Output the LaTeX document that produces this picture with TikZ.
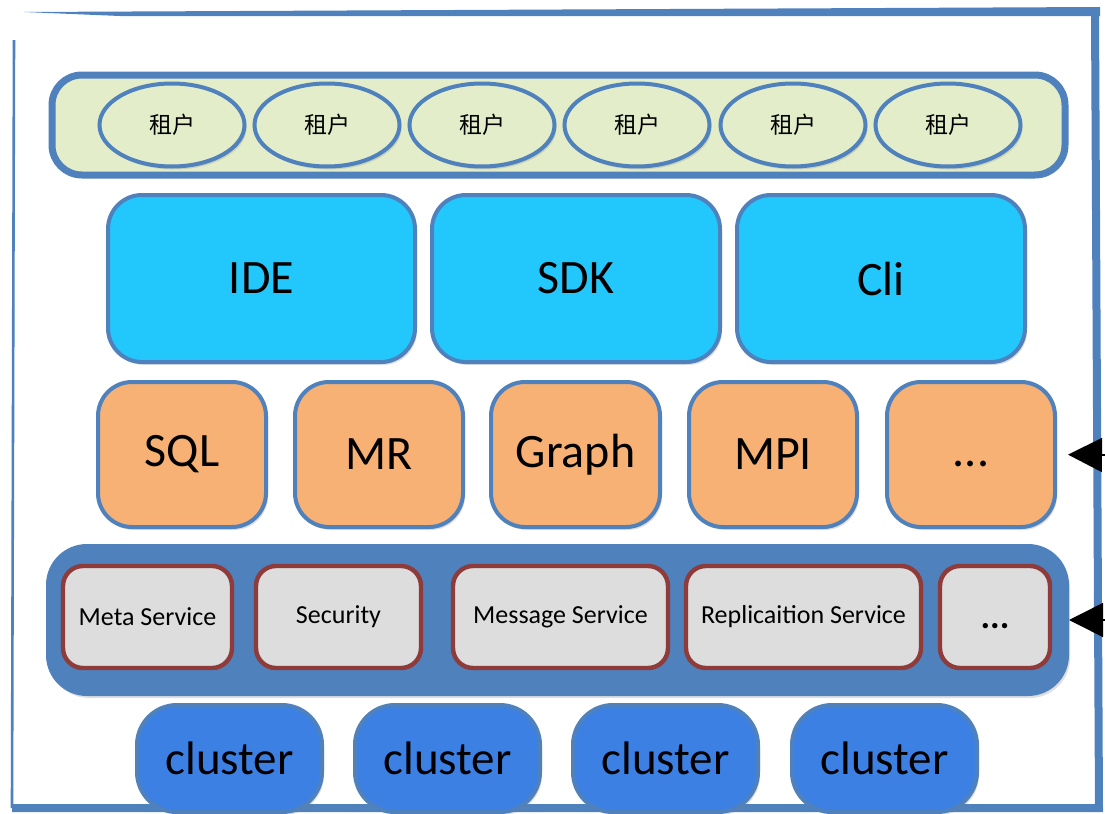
\documentclass[tikz,border=0pt]{standalone}
\usepackage{fontspec}
\setmainfont{Carlito}
\newfontfamily\cjk{Noto Sans CJK SC}
\usetikzlibrary{shapes.geometric,arrows.meta,shadows}
\definecolor{frameblue}{HTML}{4F81BD}
\definecolor{tenantfill}{HTML}{E3EDCA}
\definecolor{toolfill}{HTML}{22C8FC}
\definecolor{engfill}{HTML}{F8B174}
\definecolor{svcfill}{HTML}{DDDDDD}
\definecolor{svcborder}{HTML}{8E3B3A}
\definecolor{clusterfill}{HTML}{3C80E4}
\tikzset{
  shad/.style={drop shadow={opacity=0.25,shadow xshift=1pt,shadow yshift=-1.5pt}},
  tenantbar/.style={draw=frameblue,line width=3.5pt,fill=tenantfill,rounded corners=15pt,shad},
  tenant/.style={ellipse,draw=frameblue,line width=2pt,fill=tenantfill,inner sep=0pt,
    font=\cjk\fontsize{11.5}{13}\selectfont,shad},
  toolbox/.style={draw=frameblue,line width=2pt,fill=toolfill,rounded corners=17pt,
    font=\fontsize{24}{28}\selectfont,shad},
  engbox/.style={draw=frameblue,line width=2pt,fill=engfill,rounded corners=17pt,
    font=\fontsize{24}{28}\selectfont,shad},
  svcpanel/.style={draw=frameblue,line width=1pt,fill=frameblue,rounded corners=20pt,shad},
  svcbox/.style={draw=svcborder,line width=2.2pt,fill=svcfill,rounded corners=10pt,
    font=\fontsize{13}{15}\selectfont},
  clusterbox/.style={draw=frameblue,line width=2pt,fill=clusterfill,rounded corners=20pt,
    font=\fontsize{23.5}{27}\selectfont,shad},
  inarrow/.style={draw=black,line width=0.8pt,-{Triangle[length=17pt,width=17pt]}}
}
\newcommand\mybox[7]{\node[#6,minimum width={(#4-#2)*0.5pt},minimum height={(#5-#3)*0.5pt},inner sep=0pt] (#1) at ({(#2+#4)/2},{(#3+#5)/2}) {#7};}
\begin{document}
\begin{tikzpicture}[x=0.5pt,y=-0.5pt]
\useasboundingbox (0,0) rectangle (1105,814);
\fill[white] (0,0) rectangle (1105,814);
% outer frame
\fill[frameblue] (24,12) -- (1100,7) -- (1100,16) -- (120,16) -- cycle;
\draw[frameblue,line width=4pt] (1095,12) -- (1099,808) -- (12,808);
\draw[frameblue,line width=1.3pt] (12,808) -- (14,40);
% tenants
\mybox{tbar}{52}{75}{1065}{175}{tenantbar}{}
\foreach \i/\cx in {1/172,2/327,3/482,4/637,5/793,6/948}{
  \node[tenant,minimum width=72.5pt,minimum height=41.5pt] (t\i) at (\cx,125) {租户};
}
% tools
\mybox{ide}{108}{195}{415}{362}{toolbox}{IDE}
\mybox{sdk}{432}{195}{720}{362}{toolbox}{SDK}
\mybox{cli}{737}{195}{1025}{362}{toolbox}{Cli}
% engines
\mybox{sql}{98}{382}{266}{527}{engbox}{SQL}
\mybox{mr}{295}{382}{463}{527}{engbox}{MR}
\mybox{graph}{491}{382}{660}{527}{engbox}{Graph}
\mybox{mpi}{689}{382}{857}{527}{engbox}{MPI}
\mybox{edots}{887}{382}{1055}{527}{engbox}{\vphantom{SQL}...}
% services
\mybox{svc}{47}{545}{1068}{695}{svcpanel}{}
\mybox{meta}{63}{566}{232}{668}{svcbox}{Meta Service}
\mybox{sec}{256}{566}{421}{668}{svcbox}{Security}
\mybox{msg}{453}{566}{668}{668}{svcbox}{Message Service}
\mybox{rep}{686}{566}{921}{668}{svcbox}{Replicaition Service}
\mybox{sdots}{940}{566}{1050}{668}{svcbox,font=\fontsize{18}{20}\bfseries\selectfont}{\vphantom{S}...}
% clusters
\mybox{c1}{137}{705}{322}{812}{clusterbox}{cluster}
\mybox{c2}{355}{705}{540}{812}{clusterbox}{cluster}
\mybox{c3}{573}{705}{758}{812}{clusterbox}{cluster}
\mybox{c4}{792}{705}{977}{812}{clusterbox}{cluster}
% incoming arrows
\coordinate (e1) at (1105,455);
\coordinate (e2) at (1105,620);
\draw[inarrow,shorten >=5.5pt] (e1) -- (edots.east);
\draw[inarrow] (e2) -- (svc.east);
\end{tikzpicture}
\end{document}
